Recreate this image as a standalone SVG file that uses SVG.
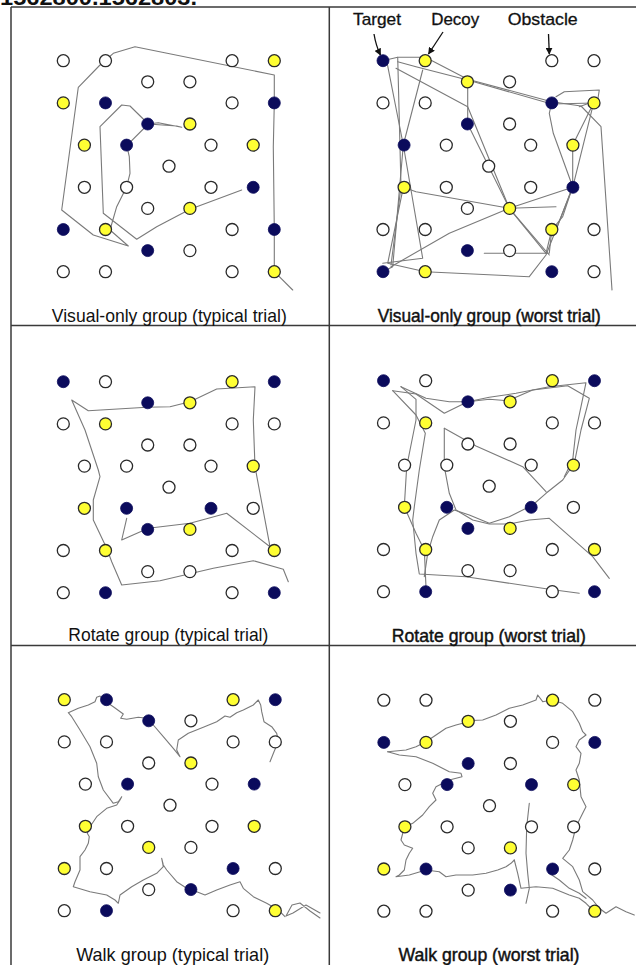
<svg xmlns="http://www.w3.org/2000/svg" width="636" height="965" viewBox="0 0 636 965">
<style>
.frame{stroke:#3a3a3a;stroke-width:1.5;fill:none}
.w{fill:#fff;stroke:#2a2a2a;stroke-width:1.3}
.y{fill:#ffff33;stroke:#2a2a2a;stroke-width:1.3}
.n{fill:#0b0b5c;stroke:#0b0b5c;stroke-width:0.8}
.tr{fill:none;stroke:#7a7a7a;stroke-width:1.1;stroke-linejoin:round;stroke-linecap:round}
.lbl{font-family:"Liberation Sans",Arial,sans-serif;font-size:18.5px;fill:#111;text-anchor:middle}
.bold{stroke:#111;stroke-width:0.45}
.key{font-family:"Liberation Sans",Arial,sans-serif;font-size:17px;fill:#111;text-anchor:middle;stroke:#111;stroke-width:0.3}
.arr{stroke:#111;stroke-width:1.3;fill:none}
</style>
<defs>
<marker id="ah" viewBox="0 0 10 10" refX="9" refY="5" markerWidth="7" markerHeight="7" orient="auto" markerUnits="userSpaceOnUse">
<path d="M0,0 L10,5 L0,10 z" fill="#111"/>
</marker>
</defs>

<text x="0" y="5" font-family="Liberation Sans, Arial, sans-serif" font-weight="bold" font-size="22" textLength="197" lengthAdjust="spacingAndGlyphs" fill="#111">1562800.1562803.</text>

<g id="frame">
<line class="frame" x1="11" y1="7" x2="636" y2="7"/>
<line class="frame" x1="11" y1="7" x2="11" y2="965"/>
<line class="frame" x1="329.3" y1="7" x2="329.3" y2="965"/>
<line class="frame" x1="11" y1="325.6" x2="636" y2="325.6"/>
<line class="frame" x1="11" y1="645.6" x2="636" y2="645.6"/>
</g>

<g id="connectors">
<path class="tr" d="M292.7,290 L274.3,271.7 L274.3,230 L273.3,146.7 L274.3,103.3 L274.3,75 L135,46.7 L113.3,53.3 L100,65 L78.3,87.3 L61.7,210 L93.3,235 L128.3,246 L110,230 L116.7,206.7 L126.7,186.7 L130,173.3 L129.3,156.7 L126.7,145.7 L148.3,124 L176.7,126 L181.7,127.3 L158.3,122.7 L148.3,124 L130,106 L121.7,105 L100,126.7 L103.3,213.3 L136.7,239.3 L156.7,226.7 L190,209.3 L241.7,190"/>

<path class="tr" d="M382.7,60.7 L397.7,57.3 L425.3,57.3 L467.7,79.3 L551.7,101.7 L581,106 L601,126.7 L612,290"/>
<path class="tr" d="M386,57.3 L403.3,145 L392.7,266.7 L382.7,271.7"/>
<path class="tr" d="M397.7,57.3 L401,186.7 L391,265"/>
<path class="tr" d="M422.7,70 L403.3,145 L422.7,258.3 L382.7,263.3"/>
<path class="tr" d="M397.7,61.7 L416,66.7 L467.7,80 L551.7,104 L594,103"/>
<path class="tr" d="M396,68.3 L467.7,106.7 L509.3,208.3 L546,253.3 L551.7,230"/>
<path class="tr" d="M467.7,81.7 L467.7,124 L509.3,208.3 L549.3,255"/>
<path class="tr" d="M403.3,187.3 L416,191.7 L509.3,208.3 L572.7,187.3 L593.7,102.7"/>
<path class="tr" d="M391,266.7 L449.3,233.3 L509.3,208.3 L556,206.7"/>
<path class="tr" d="M403.3,187.3 L387.7,263.3 L425.3,271.7 L529.3,276.7 L546,255 L572.7,187.3"/>
<path class="tr" d="M551.7,102.7 L549.3,113.3 L553.3,133.3 L572.7,186.7 L562.7,216.7 L551.7,230 L549.3,253.3 L484.3,253.3"/>
<path class="tr" d="M556,96.7 L564.3,91.7 L599.3,90 L597.7,100 L579.3,106.7"/>
<path class="tr" d="M593.7,102.7 L572.7,145 L572.7,186.7 L556,230"/>

<path class="tr" d="M126.7,518.3 L121.7,540 L148.3,528.3 L190,523.3 L226.7,513.3 L270,546.7 L255,466.7 L253.3,420 L255,386.7 L216.7,389 L190,401.7 L170,406.7 L146.7,407.3 L88.3,410.7 L71.7,400 L85,430 L98.3,470 L100,476.7 L93.3,500 L93.3,520 L106.7,548.3 L111.7,561.7 L121.7,585 L160,580.7 L213.3,568.3 L253.3,560.7 L283.3,569.3 L288.3,581.7"/>

<path class="tr" d="M392.7,390.7 L416,394 L444.3,413.3 L467.7,401.7 L489.3,399.3 L507.7,400.7 L532.7,390 L567.7,385.7 L589.3,398.3 L581,430 L574.3,463.3 L562.7,480 L546,493.3 L532.7,505 L509.3,516.7 L489.3,523.3 L469.3,515 L454.3,510 L439.3,520 L432.7,536.7 L427.7,553.3 L424.3,576.7"/>
<path class="tr" d="M401,386.7 L416,399.3 L416,420 L406.7,466.7 L404.3,506.7 L416,533.3 L424.3,550 L426,586.7"/>
<path class="tr" d="M392.7,390.7 L416,415 L425.3,433.3 L419.3,470 L414.3,506.7 L412.7,520 L416,553.3 L419.3,574 L466,576.7 L549.3,589.3 L579.3,593.3"/>
<path class="tr" d="M444.3,428.3 L444.3,466.7 L449.3,493.3 L456,510 L472.7,520 L489.3,524 L509.3,524 L529.3,520 L549.3,518.3 L592.7,556.7 L609.3,578.3"/>
<path class="tr" d="M444.3,428.3 L476,446 L522.7,466.7 L546,491.7"/>
<path class="tr" d="M401,386.7 L426,398.3 L449.3,401.7 L467.7,401.7 L489.3,397.3 L516,393.3 L549.3,386.7 L586,382.7 L581,406.7 L576,430 L572.7,460 L564.3,476.7"/>

<path class="tr" d="M320,918 L310,911 L300,903 L292,905 L286,916 L293,913 L306,905 L320,913"/>
<path class="tr" d="M285,916.7 L278.3,910 L266.7,903.3 L253.3,896.7 L243.3,888.3 L240,881.7 L230,885 L216.7,890 L205,895 L196.7,891.7 L186.7,888.3 L176.7,881.7 L166.7,870 L163.3,865 L161.7,858.3 L163.3,866.7 L156.7,873.3 L143.3,880 L131.7,886.7 L120,895 L118.3,903.3 L115,900 L106.7,895 L90,891.7 L73.3,886.7 L75,881.7 L80,870 L80,856.7 L85,850 L88.3,843.3 L89.3,836.7 L87.3,833.3 L90,826.7 L96.7,816.7 L106.7,808.3 L116.7,805 L120,800 L121.7,796.7 L118.3,801.7 L113.3,803.3 L103.3,790 L98.3,776.7 L96.7,763.3 L90,746.7 L80,730 L71.7,716.7 L68.3,712.7 L78.3,708.3 L88.3,705 L95,701.7 L96.7,697.3 L100,696 L103.3,700 L113.3,706.7 L123.3,714 L120.7,718.3 L126.7,719.3 L138.3,717.3 L146.7,718.3 L153.3,725 L163.3,736.7 L173.3,748.3 L180,756.7 L176.7,750 L178.3,740 L188.3,733.3 L203.3,727.3 L216.7,721.7 L225,716 L230,717.3 L236.7,712.7 L243.3,710 L253.3,705 L258.3,700 L260.7,705 L261.7,711.7 L264,721.7 L271.7,726.7 L276.7,733.3 L278.3,741.7 L274,751.7 L270,761.7"/>

<path class="tr" d="M387.7,751.7 L406,750 L416,746.7 L426,741.7 L436,735 L446,728.3 L456,725 L462.7,723.3 L467.7,720.7 L482.7,720 L496,715 L509.3,708.3 L522.7,705 L536,700 L537.7,695 L542.7,701.7 L551.7,700 L562.7,703.3 L572.7,711.7 L579.3,723.3 L582.7,731.7 L586,735 L579.3,740 L576,746.7 L581,753.3 L579.3,763.3 L576,770 L579.3,780 L581,796.7 L586,806.7 L582.7,813.3 L576,826.7 L572.7,840 L569.3,850 L562.7,858.3 L572.7,866.7 L579.3,880 L582.7,891.7 L592.7,900 L599.3,908.3 L606,913.3 L616,906.7 L626,911.7 L634.3,915"/>
<path class="tr" d="M387.7,751.7 L399.3,755 L416,756.7 L432.7,763.3 L449.3,771.7 L461,773.3 L462,776.7 L449.3,780 L436,786.7 L432.7,793.3 L436,800 L429.3,806.7 L422.7,815 L412.7,823.3 L404.3,827.3 L401,840 L404.3,845 L412.7,848.3 L409.3,853.3 L406,860 L404.3,870 L399.3,875 L396,876.7 L409.3,875 L426,870 L439.3,871.7 L446,876.7 L456,875 L472.7,875 L486,873.3 L497.7,870 L506,866.7 L511,863.3 L514.3,860"/>
<path class="tr" d="M514.3,860 L517.7,873.3 L521,888.3 L536,886.7 L552.7,888.3 L569.3,895 L579.3,898.3 L586,903.3 L592.7,910"/>
<path class="tr" d="M529.3,803.3 L526.7,826.7 L526,853.3 L527.7,873.3 L529.3,888.3 L526,903.3"/>
<path class="tr" d="M549.3,873.3 L559.3,880 L569.3,888.3 L579.3,893.3 L586,898.3"/>

<path class="arr" d="M374,34 Q376,46 380.5,55" marker-end="url(#ah)"/>
<path class="arr" d="M443,32 L428.5,54" marker-end="url(#ah)"/>
<path class="arr" d="M548.5,34 L549.3,54" marker-end="url(#ah)"/>
</g>

<g id="panel1">
<circle class="w" cx="63.3" cy="60.7" r="6"/><circle class="w" cx="105.5" cy="60.7" r="6"/><circle class="w" cx="232.1" cy="60.7" r="6"/><circle class="y" cx="274.3" cy="60.7" r="6"/>
<circle class="w" cx="147.7" cy="81.8" r="6"/><circle class="w" cx="189.9" cy="81.8" r="6"/>
<circle class="y" cx="63.3" cy="102.9" r="6"/><circle class="n" cx="105.5" cy="102.9" r="6"/><circle class="w" cx="232.1" cy="102.9" r="6"/><circle class="n" cx="274.3" cy="102.9" r="6"/>
<circle class="n" cx="147.7" cy="124" r="6"/><circle class="y" cx="189.9" cy="124" r="6"/>
<circle class="y" cx="84.4" cy="145.1" r="6"/><circle class="n" cx="126.6" cy="145.1" r="6"/><circle class="w" cx="211" cy="145.1" r="6"/><circle class="y" cx="253.2" cy="145.1" r="6"/>
<circle class="w" cx="169" cy="166.2" r="6"/>
<circle class="w" cx="84.4" cy="187.3" r="6"/><circle class="w" cx="126.6" cy="187.3" r="6"/><circle class="w" cx="211" cy="187.3" r="6"/><circle class="n" cx="253.2" cy="187.3" r="6"/>
<circle class="w" cx="147.7" cy="208.4" r="6"/><circle class="y" cx="189.9" cy="208.4" r="6"/>
<circle class="n" cx="63.3" cy="229.5" r="6"/><circle class="y" cx="105.5" cy="229.5" r="6"/><circle class="w" cx="232.1" cy="229.5" r="6"/><circle class="n" cx="274.3" cy="229.5" r="6"/>
<circle class="n" cx="147.7" cy="250.6" r="6"/><circle class="w" cx="189.9" cy="250.6" r="6"/>
<circle class="w" cx="63.3" cy="271.7" r="6"/><circle class="w" cx="105.5" cy="271.7" r="6"/><circle class="w" cx="232.1" cy="271.7" r="6"/><circle class="y" cx="274.3" cy="271.7" r="6"/>
<text class="lbl" x="169.3" y="321.7" textLength="235" lengthAdjust="spacingAndGlyphs">Visual-only group (typical trial)</text>
</g>

<g id="panel2" transform="translate(319.7,0)">
<circle class="n" cx="63.3" cy="60.7" r="6"/><circle class="y" cx="105.5" cy="60.7" r="6"/><circle class="w" cx="232.1" cy="60.7" r="6"/><circle class="w" cx="274.3" cy="60.7" r="6"/>
<circle class="y" cx="147.7" cy="81.8" r="6"/><circle class="w" cx="189.9" cy="81.8" r="6"/>
<circle class="w" cx="63.3" cy="102.9" r="6"/><circle class="w" cx="105.5" cy="102.9" r="6"/><circle class="n" cx="232.1" cy="102.9" r="6"/><circle class="y" cx="274.3" cy="102.9" r="6"/>
<circle class="n" cx="147.7" cy="124" r="6"/><circle class="w" cx="189.9" cy="124" r="6"/>
<circle class="n" cx="84.4" cy="145.1" r="6"/><circle class="w" cx="126.6" cy="145.1" r="6"/><circle class="w" cx="211" cy="145.1" r="6"/><circle class="y" cx="253.2" cy="145.1" r="6"/>
<circle class="w" cx="169" cy="166.2" r="6"/>
<circle class="y" cx="84.4" cy="187.3" r="6"/><circle class="w" cx="126.6" cy="187.3" r="6"/><circle class="w" cx="211" cy="187.3" r="6"/><circle class="n" cx="253.2" cy="187.3" r="6"/>
<circle class="w" cx="147.7" cy="208.4" r="6"/><circle class="y" cx="189.9" cy="208.4" r="6"/>
<circle class="w" cx="63.3" cy="229.5" r="6"/><circle class="w" cx="105.5" cy="229.5" r="6"/><circle class="y" cx="232.1" cy="229.5" r="6"/><circle class="w" cx="274.3" cy="229.5" r="6"/>
<circle class="n" cx="147.7" cy="250.6" r="6"/><circle class="w" cx="189.9" cy="250.6" r="6"/>
<circle class="n" cx="63.3" cy="271.7" r="6"/><circle class="y" cx="105.5" cy="271.7" r="6"/><circle class="n" cx="232.1" cy="271.7" r="6"/><circle class="w" cx="274.3" cy="271.7" r="6"/>
<text class="lbl bold" x="169.6" y="321.7" textLength="223" lengthAdjust="spacingAndGlyphs">Visual-only group (worst trial)</text>
<text class="key" x="57.3" y="25" textLength="48" lengthAdjust="spacingAndGlyphs">Target</text>
<text class="key" x="135.5" y="25" textLength="48" lengthAdjust="spacingAndGlyphs">Decoy</text>
<text class="key" x="223" y="25" textLength="70" lengthAdjust="spacingAndGlyphs">Obstacle</text>
</g>

<g id="panel3" transform="translate(0,321)">
<circle class="n" cx="63.3" cy="60.7" r="6"/><circle class="w" cx="105.5" cy="60.7" r="6"/><circle class="y" cx="232.1" cy="60.7" r="6"/><circle class="n" cx="274.3" cy="60.7" r="6"/>
<circle class="n" cx="147.7" cy="81.8" r="6"/><circle class="y" cx="189.9" cy="81.8" r="6"/>
<circle class="w" cx="63.3" cy="102.9" r="6"/><circle class="y" cx="105.5" cy="102.9" r="6"/><circle class="w" cx="232.1" cy="102.9" r="6"/><circle class="w" cx="274.3" cy="102.9" r="6"/>
<circle class="w" cx="147.7" cy="124" r="6"/><circle class="w" cx="189.9" cy="124" r="6"/>
<circle class="w" cx="84.4" cy="145.1" r="6"/><circle class="w" cx="126.6" cy="145.1" r="6"/><circle class="w" cx="211" cy="145.1" r="6"/><circle class="y" cx="253.2" cy="145.1" r="6"/>
<circle class="w" cx="169" cy="166.2" r="6"/>
<circle class="y" cx="84.4" cy="187.3" r="6"/><circle class="n" cx="126.6" cy="187.3" r="6"/><circle class="n" cx="211" cy="187.3" r="6"/><circle class="w" cx="253.2" cy="187.3" r="6"/>
<circle class="n" cx="147.7" cy="208.4" r="6"/><circle class="y" cx="189.9" cy="208.4" r="6"/>
<circle class="w" cx="63.3" cy="229.5" r="6"/><circle class="y" cx="105.5" cy="229.5" r="6"/><circle class="w" cx="232.1" cy="229.5" r="6"/><circle class="y" cx="274.3" cy="229.5" r="6"/>
<circle class="w" cx="147.7" cy="250.6" r="6"/><circle class="w" cx="189.9" cy="250.6" r="6"/>
<circle class="w" cx="63.3" cy="271.7" r="6"/><circle class="n" cx="105.5" cy="271.7" r="6"/><circle class="w" cx="232.1" cy="271.7" r="6"/><circle class="n" cx="274.3" cy="271.7" r="6"/>
<text class="lbl" x="168.3" y="319.5" textLength="200" lengthAdjust="spacingAndGlyphs">Rotate group (typical trial)</text>
</g>

<g id="panel4" transform="translate(320.2,320)">
<circle class="n" cx="63.3" cy="60.7" r="6"/><circle class="w" cx="105.5" cy="60.7" r="6"/><circle class="y" cx="232.1" cy="60.7" r="6"/><circle class="n" cx="274.3" cy="60.7" r="6"/>
<circle class="n" cx="147.7" cy="81.8" r="6"/><circle class="y" cx="189.9" cy="81.8" r="6"/>
<circle class="w" cx="63.3" cy="102.9" r="6"/><circle class="y" cx="105.5" cy="102.9" r="6"/><circle class="w" cx="232.1" cy="102.9" r="6"/><circle class="w" cx="274.3" cy="102.9" r="6"/>
<circle class="w" cx="147.7" cy="124" r="6"/><circle class="w" cx="189.9" cy="124" r="6"/>
<circle class="w" cx="84.4" cy="145.1" r="6"/><circle class="w" cx="126.6" cy="145.1" r="6"/><circle class="w" cx="211" cy="145.1" r="6"/><circle class="y" cx="253.2" cy="145.1" r="6"/>
<circle class="w" cx="169" cy="166.2" r="6"/>
<circle class="y" cx="84.4" cy="187.3" r="6"/><circle class="n" cx="126.6" cy="187.3" r="6"/><circle class="n" cx="211" cy="187.3" r="6"/><circle class="w" cx="253.2" cy="187.3" r="6"/>
<circle class="n" cx="147.7" cy="208.4" r="6"/><circle class="y" cx="189.9" cy="208.4" r="6"/>
<circle class="w" cx="63.3" cy="229.5" r="6"/><circle class="y" cx="105.5" cy="229.5" r="6"/><circle class="w" cx="232.1" cy="229.5" r="6"/><circle class="y" cx="274.3" cy="229.5" r="6"/>
<circle class="w" cx="147.7" cy="250.6" r="6"/><circle class="w" cx="189.9" cy="250.6" r="6"/>
<circle class="w" cx="63.3" cy="271.7" r="6"/><circle class="n" cx="105.5" cy="271.7" r="6"/><circle class="w" cx="232.1" cy="271.7" r="6"/><circle class="n" cx="274.3" cy="271.7" r="6"/>
<text class="lbl bold" x="168.6" y="321.5" textLength="194" lengthAdjust="spacingAndGlyphs">Rotate group (worst trial)</text>
</g>

<g id="panel5" transform="translate(1,639)">
<circle class="y" cx="63.3" cy="60.7" r="6"/><circle class="n" cx="105.5" cy="60.7" r="6"/><circle class="y" cx="232.1" cy="60.7" r="6"/><circle class="n" cx="274.3" cy="60.7" r="6"/>
<circle class="n" cx="147.7" cy="81.8" r="6"/><circle class="w" cx="189.9" cy="81.8" r="6"/>
<circle class="w" cx="63.3" cy="102.9" r="6"/><circle class="w" cx="105.5" cy="102.9" r="6"/><circle class="w" cx="232.1" cy="102.9" r="6"/><circle class="w" cx="274.3" cy="102.9" r="6"/>
<circle class="w" cx="147.7" cy="124" r="6"/><circle class="y" cx="189.9" cy="124" r="6"/>
<circle class="w" cx="84.4" cy="145.1" r="6"/><circle class="n" cx="126.6" cy="145.1" r="6"/><circle class="w" cx="211" cy="145.1" r="6"/><circle class="n" cx="253.2" cy="145.1" r="6"/>
<circle class="w" cx="169" cy="166.2" r="6"/>
<circle class="y" cx="84.4" cy="187.3" r="6"/><circle class="w" cx="126.6" cy="187.3" r="6"/><circle class="w" cx="211" cy="187.3" r="6"/><circle class="y" cx="253.2" cy="187.3" r="6"/>
<circle class="y" cx="147.7" cy="208.4" r="6"/><circle class="w" cx="189.9" cy="208.4" r="6"/>
<circle class="y" cx="63.3" cy="229.5" r="6"/><circle class="w" cx="105.5" cy="229.5" r="6"/><circle class="n" cx="232.1" cy="229.5" r="6"/><circle class="w" cx="274.3" cy="229.5" r="6"/>
<circle class="w" cx="147.7" cy="250.6" r="6"/><circle class="n" cx="189.9" cy="250.6" r="6"/>
<circle class="w" cx="63.3" cy="271.7" r="6"/><circle class="n" cx="105.5" cy="271.7" r="6"/><circle class="w" cx="232.1" cy="271.7" r="6"/><circle class="y" cx="274.3" cy="271.7" r="6"/>
<text class="lbl" x="171.7" y="322" textLength="193" lengthAdjust="spacingAndGlyphs">Walk group (typical trial)</text>
</g>

<g id="panel6" transform="translate(320.5,639.5)">
<circle class="w" cx="63.3" cy="60.7" r="6"/><circle class="w" cx="105.5" cy="60.7" r="6"/><circle class="y" cx="232.1" cy="60.7" r="6"/><circle class="w" cx="274.3" cy="60.7" r="6"/>
<circle class="y" cx="147.7" cy="81.8" r="6"/><circle class="w" cx="189.9" cy="81.8" r="6"/>
<circle class="n" cx="63.3" cy="102.9" r="6"/><circle class="y" cx="105.5" cy="102.9" r="6"/><circle class="w" cx="232.1" cy="102.9" r="6"/><circle class="n" cx="274.3" cy="102.9" r="6"/>
<circle class="n" cx="147.7" cy="124" r="6"/><circle class="w" cx="189.9" cy="124" r="6"/>
<circle class="w" cx="84.4" cy="145.1" r="6"/><circle class="n" cx="126.6" cy="145.1" r="6"/><circle class="n" cx="211" cy="145.1" r="6"/><circle class="y" cx="253.2" cy="145.1" r="6"/>
<circle class="w" cx="169" cy="166.2" r="6"/>
<circle class="y" cx="84.4" cy="187.3" r="6"/><circle class="w" cx="126.6" cy="187.3" r="6"/><circle class="w" cx="211" cy="187.3" r="6"/><circle class="w" cx="253.2" cy="187.3" r="6"/>
<circle class="w" cx="147.7" cy="208.4" r="6"/><circle class="y" cx="189.9" cy="208.4" r="6"/>
<circle class="y" cx="63.3" cy="229.5" r="6"/><circle class="n" cx="105.5" cy="229.5" r="6"/><circle class="n" cx="232.1" cy="229.5" r="6"/><circle class="w" cx="274.3" cy="229.5" r="6"/>
<circle class="w" cx="147.7" cy="250.6" r="6"/><circle class="n" cx="189.9" cy="250.6" r="6"/>
<circle class="w" cx="63.3" cy="271.7" r="6"/><circle class="w" cx="105.5" cy="271.7" r="6"/><circle class="w" cx="232.1" cy="271.7" r="6"/><circle class="y" cx="274.3" cy="271.7" r="6"/>
<text class="lbl bold" x="168.5" y="321.5" textLength="181" lengthAdjust="spacingAndGlyphs">Walk group (worst trial)</text>
</g>
</svg>
